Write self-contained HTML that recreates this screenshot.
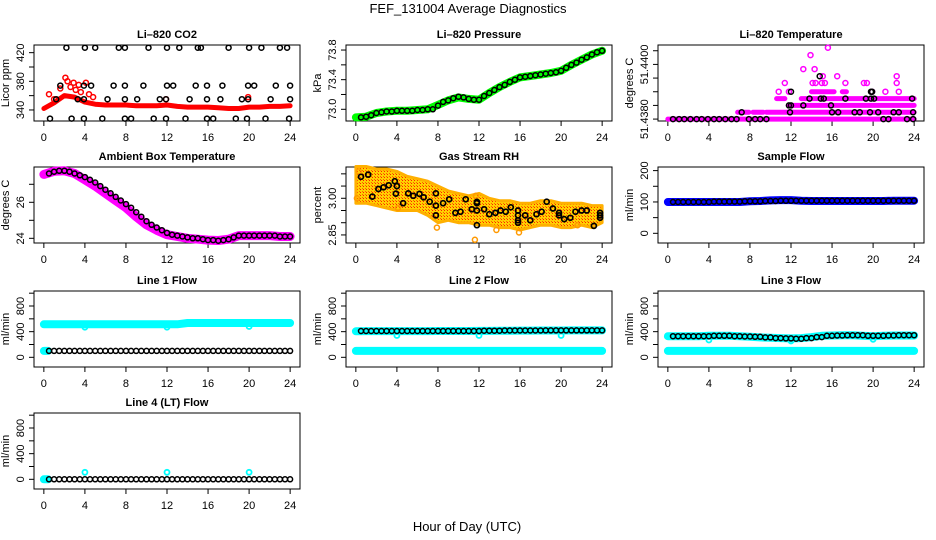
<!DOCTYPE html>
<html><head><meta charset="utf-8"><style>
html,body{margin:0;padding:0;background:#fff;}
svg{display:block;font-family:"Liberation Sans",Arial,sans-serif;}
</style></head><body>
<svg id="chart" width="936" height="540" viewBox="0 0 936 540" xmlns="http://www.w3.org/2000/svg">
<defs>
<pattern id="rhpat" width="3" height="3" patternUnits="userSpaceOnUse">
<rect width="3" height="3" fill="#ffd000"/><rect width="1" height="1" fill="#ff2000"/><rect x="2" y="2" width="1" height="1" fill="#ff6000"/>
</pattern>
</defs>
<text x="468" y="13" font-size="13" text-anchor="middle">FEF_131004  Average Diagnostics</text>
<text x="467" y="531" font-size="13" text-anchor="middle">Hour of Day (UTC)</text>
</svg>
<script>
// ---------- data ----------
const hours = [0,1,2,3,4,5,6,7,8,9,10,11,12,13,14,15,16,17,18,19,20,21,22,23,24];
// CO2
const co2Red = [342,350,360,358,351,348,347,347,347,346,346,346,347,345,344,344,344,343,342,342,344,344,345,345,346];
const co2RedX = [0.5,1,1.6,2.1,2.3,2.6,2.9,3.1,3.4,3.6,4.1,4.4,4.8,11.9,19.9];
const co2RedY = [362,355,370,385,380,372,378,368,375,365,378,362,358,355,358];
const co2BlkX = [2.2,4,5,7.3,7.9,10.2,12,13.2,15,15.3,18,20,21.2,23,23.7, 1.6,3.9,4.6,6.8,7.9,9.7,12,12.6,14.8,15.9,17.4,19.9,20.5,22.6,24, 1.2,3.3,3.9,6.2,7.9,9.1,11.3,11.9,14.2,15.9,17.2,19.3,19.9,22.1,24, 0.6,2.7,3.9,5.7,7.9,8.5,10.7,11.9,13.8,15.9,16.5,18.7,19.8,21.6,23.9];
const co2BlkY = [427,427,427,427,427,427,427,427,427,427,427,427,427,427,427, 374,374,374,374,374,374,374,374,374,374,374,374,374,374,374, 355,355,355,355,355,355,355,355,355,355,355,355,355,355,355, 328,328,328,328,328,328,328,328,328,328,328,328,328,328,328];
// Pressure
const presGreen = [72.89,72.9,72.95,72.97,72.98,72.98,72.99,73.0,73.06,73.12,73.16,73.14,73.13,73.22,73.3,73.37,73.43,73.45,73.47,73.49,73.52,73.6,73.67,73.74,73.79];
const presBlack = [72.89,72.9,72.92,72.95,72.96,72.97,72.97,72.98,72.98,72.98,72.98,72.99,72.99,73.0,73.0,73.05,73.1,73.12,73.15,73.17,73.16,73.14,73.13,73.13,73.18,73.22,73.26,73.3,73.33,73.37,73.4,73.43,73.44,73.45,73.46,73.47,73.48,73.49,73.5,73.52,73.56,73.6,73.63,73.67,73.7,73.74,73.77,73.79];
// Li-820 temperature
const tSegLevel = [51.4380,51.43825,51.43825,51.43825,51.4385,51.43875,51.43875,51.4390,51.4390];
const tSegStart = [0,6.8,8.3,9.6,11.8,10.6,13,14,17];
const tSegEnd = [24,7.9,9.3,24,24,11.4,24,16.2,17.4];
const tPinkX = [10.8,11.8,19.9,21.2,22.5,11.4,14.1,14.4,15.0,15.3,17.3,19.1,19.4,22.3,15.1,16.5,22.3,13.2,14.3,13.9,15.6];
const tPinkY = [51.4390,51.4390,51.4390,51.4390,51.4390,51.43932,51.43932,51.43932,51.43932,51.43932,51.43932,51.43932,51.43932,51.43932,51.43957,51.43957,51.43957,51.43983,51.43983,51.44034,51.44061];
const tBlkX = [0.5,1.1,1.6,2.2,2.8,3.3,3.9,4.5,5.0,5.6,6.2,6.7,7.9,8.5,9.0,9.6,21.0,21.5,23.3,23.9, 7.2,11.9,16.0,16.6,18.2,18.7,19.7,20.5,22.0,22.5,23.9, 11.8,12.0,13.2,15.9, 13.8,14.9,15.2,17.3,19.3,19.8,20.1,23.8, 12.0,19.8,19.9, 14.8];
const tBlkY = [51.4380,51.4380,51.4380,51.4380,51.4380,51.4380,51.4380,51.4380,51.4380,51.4380,51.4380,51.4380,51.4380,51.4380,51.4380,51.4380,51.4380,51.4380,51.4380,51.4380, 51.43825,51.43825,51.43825,51.43825,51.43825,51.43825,51.43825,51.43825,51.43825,51.43825,51.43825, 51.4385,51.4385,51.4385,51.4385, 51.43875,51.43875,51.43875,51.43875,51.43875,51.43875,51.43875,51.43875, 51.4390,51.4390,51.4390, 51.43957];
// Ambient box temperature
const ambMag = [27.55,27.72,27.75,27.6,27.25,26.9,26.5,26.1,25.7,25.2,24.75,24.45,24.2,24.1,24.0,23.95,23.9,23.88,23.95,24.15,24.15,24.15,24.15,24.1,24.1];
const ambBlack = [27.6,27.7,27.75,27.75,27.7,27.6,27.5,27.4,27.25,27.1,26.9,26.7,26.5,26.3,26.1,25.9,25.7,25.45,25.2,24.95,24.75,24.6,24.45,24.3,24.2,24.15,24.1,24.05,24.0,24.0,23.95,23.9,23.9,23.87,23.9,23.95,24.05,24.15,24.15,24.15,24.15,24.15,24.15,24.15,24.15,24.1,24.1,24.1];
// Gas stream RH
const rhUpper = [3.13,3.13,3.12,3.12,3.11,3.09,3.08,3.07,3.05,3.03,3.02,3.01,3.02,3.0,2.99,2.99,2.98,2.98,2.99,2.99,2.98,2.98,2.98,2.97,2.97];
const rhLower = [2.98,2.98,2.97,2.96,2.95,2.95,2.95,2.93,2.9,2.91,2.9,2.9,2.89,2.89,2.88,2.88,2.87,2.88,2.89,2.89,2.88,2.88,2.89,2.88,2.9];
const rhOutX = [11.6,0.1,4.1,15.9,21.6,7.9,0.3,11.7,13.7];
const rhOutY = [2.83,3.0,2.96,2.86,2.89,2.88,3.11,3.01,2.87];
const rhBlkX = [0.5,1.2,1.6,2.2,2.7,3.2,3.8,3.9,4.0,4.6,5.1,5.6,6.2,6.6,7.2,7.8,7.8,7.8,8.5,9.1,9.7,10.2,10.7,11.3,11.8,11.8,11.8,11.8,12.5,13.0,13.6,14.1,14.6,15.1,15.8,15.8,15.8,15.8,16.5,17.0,17.6,18.1,18.6,19.2,19.8,19.8,20.3,20.9,21.4,22.0,22.5,23.2,23.8,23.8,23.8];
const rhBlkY = [3.088,3.097,3.007,3.038,3.045,3.053,3.07,3.019,3.05,2.98,3.02,3.01,3.018,3.004,2.986,3.02,2.97,2.93,2.98,2.996,2.94,2.945,2.996,2.955,2.985,2.98,2.95,2.89,2.955,2.935,2.94,2.95,2.945,2.963,2.95,2.93,2.91,2.9,2.93,2.91,2.935,2.945,2.986,2.958,2.94,2.93,2.915,2.92,2.945,2.95,2.95,2.887,2.94,2.93,2.92];
// Sample flow
const sfBlue = [100,100,100,100,100,100,100,100,102,103,105,106,106,104,103,103,103,103,103,103,103,103,104,104,104];
const sfBlack = [100,100,100,100,100,100,100,100,101,101,101,101,101,101,102,102,102,102,103,103,103,104,104,104,104,104,104,104,104,104,104,104,104,104,104,104,104,104,104,104,104,104,104,104,104,104,104,104];
// Line flows (hourly)
const l1Cyan = [515,515,515,515,515,515,515,515,515,515,515,515,515,515,535,535,535,535,535,535,535,535,535,535,535];
const l1Black = [100,100,100,100,100,100,100,100,100,100,100,100,100,100,100,100,100,100,100,100,100,100,100,100,100];
const l2Cyan = [405,408,408,408,408,408,408,408,410,410,410,410,412,412,414,414,416,416,418,418,418,420,420,420,420];
const l2Black = [410,410,410,410,410,410,410,410,410,410,410,410,415,415,418,418,418,418,420,420,420,420,420,420,420];
const l3Cyan = [330,330,330,330,335,335,335,330,320,310,305,300,295,300,315,335,340,345,345,335,330,335,340,340,340];
const l3Black = [330,330,330,330,335,335,330,325,320,310,300,295,290,300,315,335,340,345,345,335,335,340,345,345,345];
const lowCyan = [100,100,100,100,100,100,100,100,100,100,100,100,100,100,100,100,100,100,100,100,100,100,100,100,100];
const l4Black = [0,0,0,0,0,0,0,0,0,0,0,0,0,0,0,0,0,0,0,0,0,0,0,0,0];
const dipX = [4,12,20];
const l1Dip = [470,470,480];
const l2Dip = [340,340,340];
const l3Dip = [270,255,280];
const l4Dip = [110,110,110];
const xTicks = [0,4,8,12,16,20,24];

// ---------- drawing ----------
const svg = document.getElementById('chart');
const NS = 'http://www.w3.org/2000/svg';
function mk(tag, attrs, parent){ const e=document.createElementNS(NS,tag); for(const k in attrs) e.setAttribute(k,attrs[k]); (parent||svg).appendChild(e); return e; }

function panel(id, bx, by, ylim, yticks, ylabels, title, ylab){
  const w=266, h=76;
  const g = mk('g',{});
  
  
  const sx = v => bx + (v+0.96)/25.92*w;
  const sy = v => by + h - (v-ylim[0])/(ylim[1]-ylim[0])*h;
  const t = mk('text',{x:bx+w/2,y:by-7,'font-size':11,'font-weight':'bold','text-anchor':'middle'},g);
  t.textContent = title;
  
  
  const box = mk('rect',{x:bx,y:by,width:w,height:h,fill:'none',stroke:'#000','stroke-width':1},g);
  
  
  const xa = mk('g',{},g);
  
  
  mk('line',{x1:sx(0),x2:sx(24),y1:by+h,y2:by+h,stroke:'#000'},xa);
  xTicks.forEach(v=>{
    mk('line',{x1:sx(v),x2:sx(v),y1:by+h,y2:by+h+5,stroke:'#000'},xa);
    const tl = mk('text',{x:sx(v),y:by+h+20,'font-size':11,'text-anchor':'middle'},xa);
    tl.textContent = v;
    
    
  });
  const ya = mk('g',{},g);
  
  
  mk('line',{x1:bx,x2:bx,y1:sy(yticks[0]),y2:sy(yticks[yticks.length-1]),stroke:'#000'},ya);
  yticks.forEach(v=>{ mk('line',{x1:bx-5,x2:bx,y1:sy(v),y2:sy(v),stroke:'#000'},ya); });
  ylabels.forEach(l=>{
    const yy = sy(l.v);
    const tl = mk('text',{x:bx-10,y:yy,'font-size':11,'text-anchor':'middle',transform:`rotate(-90 ${bx-10} ${yy})`},ya);
    tl.textContent = l.t;
    
    
  });
  const yl = mk('text',{x:bx-25,y:by+h/2,'font-size':11,'text-anchor':'middle',transform:`rotate(-90 ${bx-25} ${by+h/2})`},g);
  yl.textContent = ylab;
  
  
  const plot = mk('g',{},g);
  return {sx, sy, g:plot, id};
}
function band(p, xs, ys, color, width, name){
  const d = xs.map((x,i)=>(i?'L':'M')+p.sx(x).toFixed(1)+' '+p.sy(ys[i]).toFixed(1)).join(' ');
  const e = mk('path',{d, fill:'none', stroke:color, 'stroke-width':width, 'stroke-linecap':'round','stroke-linejoin':'round'}, p.g);
  
  
}
function pts(p, xs, ys, color, r, sw, name){
  const g = mk('g',{},p.g);
  
  
  xs.forEach((x,i)=>{
    const c = mk('circle',{cx:p.sx(x).toFixed(1),cy:p.sy(ys[i]).toFixed(1),r,fill:'none',stroke:color,'stroke-width':sw},g);
    
    
  });
}
const halfX = presBlack.map((_,i)=>0.5+i*0.5);
const BLK='#000';
const R=2.5, SW=1.5;

// Panel 1: CO2
let p = panel('co2',34,45,[324.6,430.7],[340,360,380,400,420],[{v:340,t:'340'},{v:380,t:'380'},{v:420,t:'420'}],'Li\u2013820 CO2','Licor ppm');
band(p,hours,co2Red,'#ff0000',5,'co2-red-series');
pts(p,co2RedX,co2RedY,'#ff0000',R,SW,'co2-red-scatter');
pts(p,co2BlkX,co2BlkY,BLK,R,SW,'co2-black-series');

// Panel 2: Pressure
p = panel('pressure',346,45,[72.842,73.868],[73.0,73.2,73.4,73.6,73.8],[{v:73.0,t:'73.0'},{v:73.4,t:'73.4'},{v:73.8,t:'73.8'}],'Li\u2013820 Pressure','kPa');
band(p,hours,presGreen,'#00ff00',8,'pressure-green-series');
pts(p,halfX,presBlack,BLK,R,SW,'pressure-black-series');

// Panel 3: Li-820 Temperature
p = panel('li820-temp',658,45,[51.43793,51.44071],[51.4380,51.4385,51.4390,51.4395,51.4400,51.4405],[{v:51.4380,t:'51.4380'},{v:51.4400,t:'51.4400'}],'Li\u2013820 Temperature','degrees C');
(function(){
  const g = mk('g',{},p.g);
  
  
  tSegLevel.forEach((lv,i)=>{
    const l = mk('line',{x1:p.sx(tSegStart[i]),x2:p.sx(tSegEnd[i]),y1:p.sy(lv),y2:p.sy(lv),stroke:'#ff00ff','stroke-width':5,'stroke-linecap':'round'},g);
    
    
  });
})();
pts(p,tPinkX,tPinkY,'#ff00ff',R,SW,'li820-temp-pink-scatter');
pts(p,tBlkX,tBlkY,BLK,R,SW,'li820-temp-black-series');

// Panel 4: Ambient box temperature
p = panel('ambient-temp',34,167,[23.74,27.96],[24,25,26,27],[{v:24,t:'24'},{v:26,t:'26'}],'Ambient Box Temperature','degrees C');
band(p,hours,ambMag,'#ff00ff',9,'ambient-magenta-series');
pts(p,halfX,ambBlack,BLK,R,SW,'ambient-black-series');

// Panel 5: Gas stream RH
p = panel('gas-rh',346,167,[2.817,3.128],[2.85,2.90,2.95,3.00,3.05,3.10],[{v:2.85,t:'2.85'},{v:3.00,t:'3.00'}],'Gas Stream RH','percent');
(function(){
  const up = hours.map((x,i)=>p.sx(x).toFixed(1)+','+p.sy(rhUpper[i]).toFixed(1));
  const lo = hours.map((x,i)=>p.sx(x).toFixed(1)+','+p.sy(rhLower[i]).toFixed(1)).reverse();
  const e = mk('polygon',{points:up.concat(lo).join(' '),fill:'url(#rhpat)',stroke:'#ffb000','stroke-width':3,'stroke-linejoin':'round'},p.g);
  
  
})();
pts(p,rhOutX,rhOutY,'#ff9900',2.5,1.5,'gas-rh-orange-scatter');
pts(p,rhBlkX,rhBlkY,BLK,R,1.7,'gas-rh-black-series');

// Panel 6: Sample flow
p = panel('sample-flow',658,167,[-30.9,211.5],[0,50,100,150,200],[{v:0,t:'0'},{v:100,t:'100'},{v:200,t:'200'}],'Sample Flow','ml/min');
band(p,hours,sfBlue,'#0000ff',8,'sample-flow-blue-series');
pts(p,halfX,sfBlack,BLK,R,SW,'sample-flow-black-series');

// Flow panels
const fT=[0,200,400,600,800,1000], fL=[{v:0,t:'0'},{v:400,t:'400'},{v:800,t:'800'}], fLim=[-151,1034];
p = panel('line1-flow',34,291,fLim,fT,fL,'Line 1 Flow','ml/min');
band(p,hours,l1Cyan,'#00ffff',8,'line1-cyan-series');
band(p,[0,0.4],[100,100],'#00ffff',8,'line1-cyan-low');
pts(p,dipX,l1Dip,'#00ffff',R,1.8,'line1-cyan-dips');
pts(p,halfX,halfX.map((_,i)=>l1Black[Math.floor(i/2)]),BLK,R,SW,'line1-black-series');

p = panel('line2-flow',346,291,fLim,fT,fL,'Line 2 Flow','ml/min');
band(p,hours,lowCyan,'#00ffff',8,'line2-cyan-low');
band(p,hours,l2Cyan,'#00ffff',8,'line2-cyan-series');
pts(p,dipX,l2Dip,'#00ffff',R,1.8,'line2-cyan-dips');
pts(p,halfX,halfX.map((_,i)=>l2Black[Math.floor(i/2)]),BLK,R,SW,'line2-black-series');

p = panel('line3-flow',658,291,fLim,fT,fL,'Line 3 Flow','ml/min');
band(p,hours,lowCyan,'#00ffff',8,'line3-cyan-low');
band(p,hours,l3Cyan,'#00ffff',8,'line3-cyan-series');
pts(p,dipX,l3Dip,'#00ffff',R,1.8,'line3-cyan-dips');
pts(p,halfX,halfX.map((_,i)=>l3Black[Math.floor(i/2)]),BLK,R,SW,'line3-black-series');

p = panel('line4-flow',34,413,fLim,fT,fL,'Line 4 (LT) Flow','ml/min');
band(p,[0,0.4],[0,0],'#00ffff',8,'line4-cyan-low');
pts(p,dipX,l4Dip,'#00ffff',R,1.8,'line4-cyan-outliers');
pts(p,halfX,halfX.map((_,i)=>l4Black[Math.floor(i/2)]),BLK,R,SW,'line4-black-series');
</script>
</body></html>
